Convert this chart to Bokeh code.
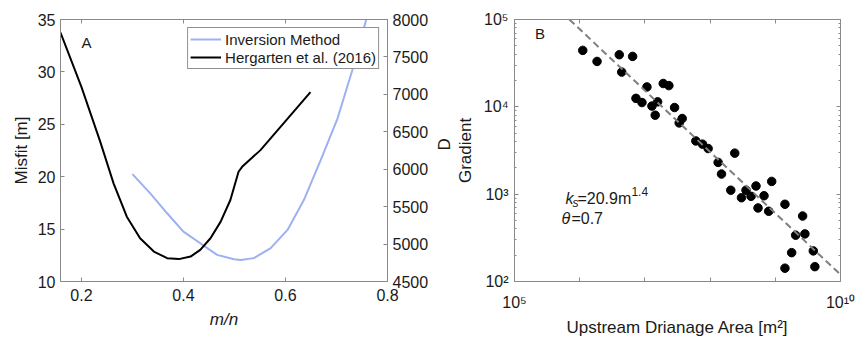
import math
from bokeh.plotting import figure
from bokeh.layouts import row
from bokeh.models import (Range1d, LinearAxis, LogAxis, FixedTicker,
                          CustomJSTickFormatter, Label)
from bokeh.embed import file_html
from bokeh.resources import INLINE

FONT = "Liberation Sans"
AXC = "#8a8a8a"
TXT = "#1a1a1a"

# ---------------- Panel A data ----------------
inv_mn = [0.30, 0.335, 0.368, 0.400, 0.433, 0.466, 0.499, 0.512, 0.538,
          0.571, 0.604, 0.636, 0.669, 0.702, 0.731, 0.760]
inv_misfit = [20.25, 18.41, 16.51, 14.76, 13.65, 12.54, 12.13, 12.06, 12.23,
              13.18, 14.92, 17.77, 21.58, 25.55, 30.15, 35.3]
her_mn = [0.159, 0.200, 0.237, 0.263, 0.289, 0.315, 0.342, 0.368, 0.391,
          0.414, 0.433, 0.453, 0.473, 0.492, 0.508, 0.515, 0.551, 0.649]
her_D = [7825, 7100, 6365, 5811, 5366, 5078, 4900, 4812, 4799,
         4833, 4922, 5078, 5300, 5589, 5966, 6032, 6255, 7031]
mn_ticks = [0.2, 0.4, 0.6, 0.8]
misfit_ticks = [10, 15, 20, 25, 30, 35]
d_ticks = [4500, 5000, 5500, 6000, 6500, 7000, 7500, 8000]

# ---------------- Panel B data ----------------
area = [1.114e6, 1.845e6, 4.046e6, 6.486e6, 4.406e6, 1.074e7, 1.910e7, 2.333e7,
        7.295e6, 9.02e6, 1.282e7, 1.567e7, 1.439e7, 2.851e7, 3.733e7, 3.357e7,
        6.039e7, 7.656e7, 9.333e7, 1.327e8, 1.496e8, 2.388e8, 2.075e8, 3.027e8,
        3.556e8, 4.246e8, 5.058e8, 6.714e8, 5.433e8, 7.925e8, 8.81e8, 1.406e9,
        2.624e9, 2.051e9, 2.844e9, 1.782e9, 3.828e9, 1.406e9, 4.046e9]
gradient = [4.43e4, 3.31e4, 3.95e4, 3.78e4, 2.50e4, 1.69e4, 1.85e4, 1.75e4,
            1.25e4, 1.12e4, 1.02e4, 1.14e4, 8.02e3, 9.82e3, 7.35e3, 6.55e3,
            4.07e3, 3.74e3, 3.33e3, 2.31e3, 1.70e3, 2.95e3, 1.11e3, 910,
            1.11e3, 944, 1.24e3, 959, 695, 637, 1.40e3, 766,
            562, 339, 351, 214, 224, 142, 148]
fit_area = [6.95e5, 1.0e10]
fit_gradient = [1.0e5, 1.2e2]
area_ticks = [1e5, 1e6, 1e7, 1e8, 1e9, 1e10]
grad_ticks = [1e2, 1e3, 1e4, 1e5]
grad_minor = [m * 10.0 ** k for k in (2, 3, 4) for m in range(2, 10)]


def style_axis(ax, label_size="17px"):
    ax.axis_line_color = AXC
    ax.major_tick_line_color = AXC
    ax.minor_tick_line_color = AXC
    ax.major_tick_in = 4
    ax.major_tick_out = 0
    ax.minor_tick_in = 2
    ax.minor_tick_out = 0
    ax.major_label_text_font = FONT
    ax.major_label_text_font_size = "16px"
    ax.major_label_text_color = TXT
    ax.major_label_standoff = 5
    ax.axis_label_text_font = FONT
    ax.axis_label_text_font_size = label_size
    ax.axis_label_text_font_style = "normal"
    ax.axis_label_text_color = TXT


def hide_labels(ax):
    ax.major_label_text_font_size = "0px"
    ax.major_label_text_color = None
    ax.major_label_standoff = 0


# ================= Panel A =================
p1 = figure(width=467, height=339, x_range=Range1d(0.159, 0.8),
            y_range=Range1d(10, 35), output_backend="svg", toolbar_location=None,
            min_border_left=60, min_border_right=80, min_border_top=19,
            min_border_bottom=57)
p1.extra_y_ranges = {"D": Range1d(4500, 8000)}
p1.grid.visible = False
p1.outline_line_color = AXC

p1.xaxis.ticker = FixedTicker(ticks=mn_ticks)
p1.yaxis.ticker = FixedTicker(ticks=misfit_ticks)
p1.xaxis.axis_label = "m/n"
p1.yaxis.axis_label = "Misfit [m]"
for ax in p1.xaxis + p1.yaxis:
    style_axis(ax)
p1.xaxis.axis_label_text_font_style = "italic"
p1.xaxis.major_label_standoff = 7
p1.xaxis.axis_label_standoff = 6
p1.yaxis.axis_label_standoff = 4

d_axis = LinearAxis(y_range_name="D", ticker=FixedTicker(ticks=d_ticks), axis_label="D")
style_axis(d_axis)
d_axis.axis_label_standoff = 13
d_axis.axis_label_orientation = math.pi / 2
p1.add_layout(d_axis, "right")

top1 = LinearAxis(ticker=FixedTicker(ticks=mn_ticks))
style_axis(top1)
hide_labels(top1)
p1.add_layout(top1, "above")

p1.line(inv_mn, inv_misfit, line_color="#9db0f2", line_width=2,
        legend_label="Inversion Method")
p1.line(her_mn, her_D, line_color="black", line_width=2, y_range_name="D",
        legend_label="Hergarten et al. (2016)")

lg = p1.legend[0]
lg.location = "top_right"
lg.margin = 8
lg.padding = 2
lg.spacing = 0
lg.label_height = 18
lg.glyph_height = 18
lg.glyph_width = 31
lg.label_standoff = 4
lg.label_text_font = FONT
lg.label_text_font_size = "15px"
lg.label_text_color = TXT
lg.border_line_color = "#262626"
lg.border_line_width = 1
lg.background_fill_alpha = 1.0

p1.add_layout(Label(x=0.2, y=32.78, text="A", text_font=FONT,
                    text_font_size="15px", text_baseline="middle",
                    text_align="left", text_color=TXT))

# ================= Panel B =================
p2 = figure(width=410, height=339, x_axis_type="log", y_axis_type="log",
            x_range=Range1d(1e5, 1e10), y_range=Range1d(1e2, 1e5),
            output_backend="svg", toolbar_location=None,
            min_border_left=61, min_border_right=22, min_border_top=19,
            min_border_bottom=57, margin=(0, 0, 0, -15))
p2.grid.visible = False
p2.outline_line_color = AXC
p2.border_fill_alpha = 0

sup_code = """
const sup = {"0":"\u2070","1":"\u00b9","2":"\u00b2","3":"\u00b3","4":"\u2074",
             "5":"\u2075","6":"\u2076","7":"\u2077","8":"\u2078","9":"\u2079"};
const e = Math.round(Math.log10(tick));
%s
return "10" + String(e).split("").map(c => sup[c]).join("");
"""
fmt_all = CustomJSTickFormatter(code=sup_code % "")
fmt_ends = CustomJSTickFormatter(code=sup_code % 'if (e != 5 && e != 10) { return ""; }')

p2.xaxis.ticker = FixedTicker(ticks=area_ticks)
p2.xaxis.formatter = fmt_ends
p2.yaxis.ticker = FixedTicker(ticks=grad_ticks, minor_ticks=grad_minor)
p2.yaxis.formatter = fmt_all
p2.xaxis.axis_label = "Upstream Drianage Area [m\u00b2]"
p2.yaxis.axis_label = "Gradient"
for ax in p2.xaxis + p2.yaxis:
    style_axis(ax)
p2.xaxis.major_label_standoff = 12
p2.xaxis.axis_label_standoff = 4
p2.yaxis.major_label_standoff = 6
p2.yaxis.axis_label_standoff = 6

top2 = LogAxis(ticker=FixedTicker(ticks=area_ticks))
style_axis(top2)
hide_labels(top2)
p2.add_layout(top2, "above")
right2 = LogAxis(ticker=FixedTicker(ticks=grad_ticks, minor_ticks=grad_minor))
style_axis(right2)
hide_labels(right2)
p2.add_layout(right2, "right")

p2.scatter(area, gradient, size=8.5, fill_color="black", line_color="black")
p2.line(fit_area, fit_gradient, line_color="#7f7f7f", line_width=2, line_dash="7 4")

p2.add_layout(Label(x=2.07e5, y=6.87e4, text="B", text_font=FONT,
                    text_font_size="15px", text_baseline="middle",
                    text_align="left", text_color=TXT))

ax_a, g1, g2 = 6.04e5, 895, 530
ann = [
    ("k", 0, 0, "16px", "italic", g1),
    ("s", 7, -5, "12px", "italic", g1),
    ("=20.9m", 12, 0, "16px", "normal", g1),
    ("1.4", 66, 7, "12px", "normal", g1),
    ("\u03b8", -4, 0, "16px", "italic", g2),
    ("=0.7", 6, 0, "16px", "normal", g2),
]
for t, dx, dy, fs, st, gy in ann:
    p2.add_layout(Label(x=ax_a, y=gy, x_offset=dx, y_offset=dy, text=t,
                        text_font=FONT, text_font_size=fs, text_font_style=st,
                        text_baseline="alphabetic", text_align="left",
                        text_color=TXT))

layout = row(p1, p2)
open("out.html", "w").write(file_html(layout, INLINE))
